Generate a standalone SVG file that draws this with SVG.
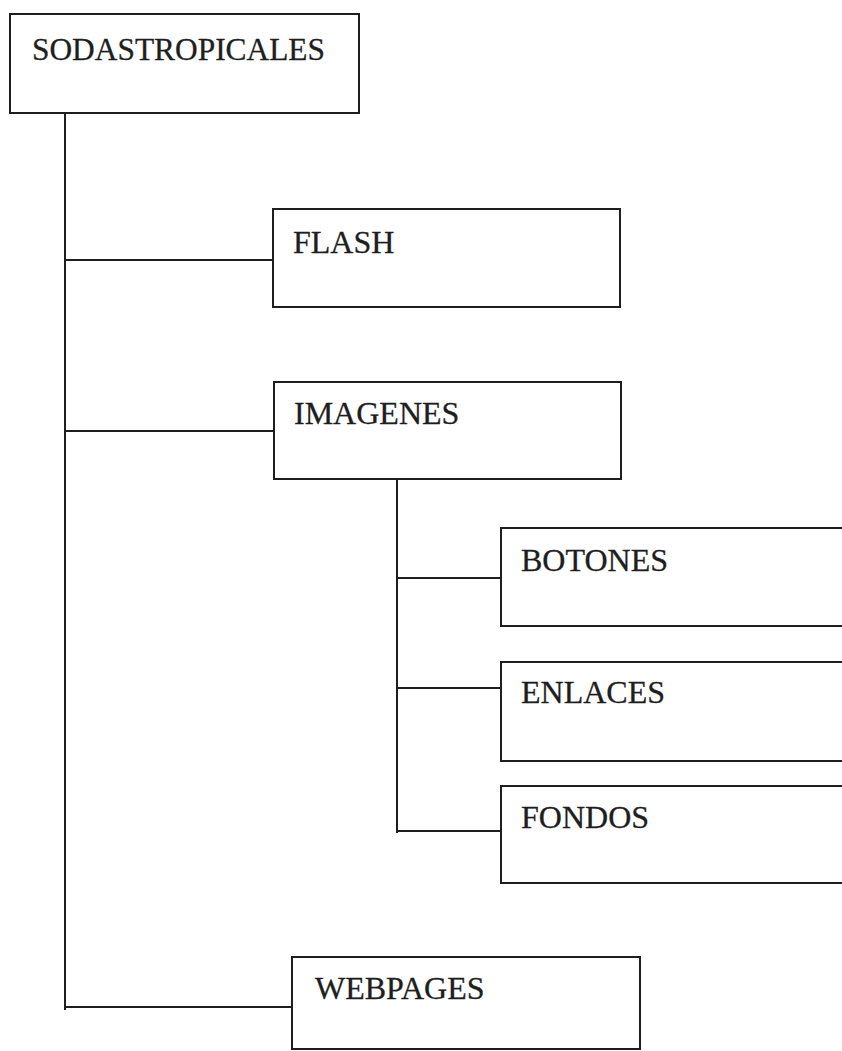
<svg xmlns="http://www.w3.org/2000/svg" width="842" height="1051" viewBox="0 0 842 1051">
<style>
.box{fill:#fff;stroke:#1e1e1e;stroke-width:2}
.lbl{font-family:"Liberation Serif","Times New Roman",serif;font-size:32px;fill:#1e1e1e;stroke:#1e1e1e;stroke-width:0.3}
.con{fill:none;stroke:#1e1e1e;stroke-width:2}
</style>
<rect width="842" height="1051" fill="#fff"/>
<g id="connectors">
<path class="con" d="M65 113 V1010"/>
<path class="con" d="M65 260 H273"/>
<path class="con" d="M65 431 H274"/>
<path class="con" d="M65 1007 H292"/>
<path class="con" d="M397 479 V833"/>
<path class="con" d="M397 578 H501"/>
<path class="con" d="M397 688 H501"/>
<path class="con" d="M397 831 H501"/>
</g>
<g id="sodastropicales">
<rect class="box" x="10" y="14" width="349" height="99"/>
<text class="lbl" x="32" y="60" textLength="293" lengthAdjust="spacingAndGlyphs">SODASTROPICALES</text>
</g>
<g id="flash">
<rect class="box" x="273" y="209" width="347" height="98"/>
<text class="lbl" x="293" y="253">FLASH</text>
</g>
<g id="imagenes">
<rect class="box" x="274" y="382" width="347" height="97"/>
<text class="lbl" x="294" y="424">IMAGENES</text>
</g>
<g id="botones">
<rect class="box" x="501" y="528" width="360" height="98"/>
<text class="lbl" x="521" y="571">BOTONES</text>
</g>
<g id="enlaces">
<rect class="box" x="501" y="662" width="360" height="99"/>
<text class="lbl" x="521" y="703">ENLACES</text>
</g>
<g id="fondos">
<rect class="box" x="501" y="786" width="360" height="97"/>
<text class="lbl" x="521" y="828">FONDOS</text>
</g>
<g id="webpages">
<rect class="box" x="292" y="957" width="348" height="92"/>
<text class="lbl" x="315" y="999">WEBPAGES</text>
</g>
</svg>
